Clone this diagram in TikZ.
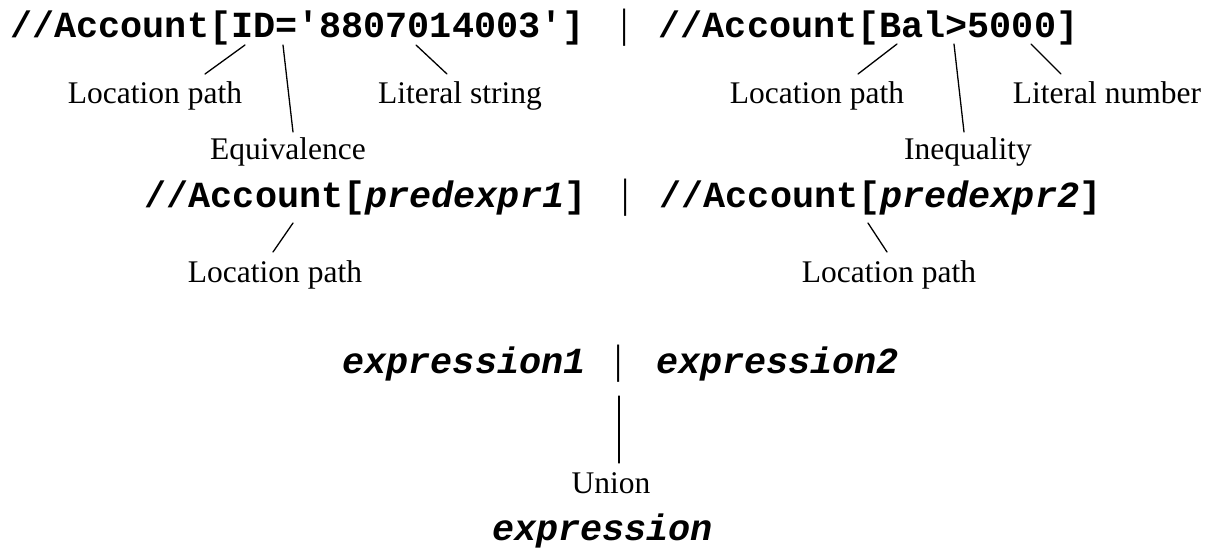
\documentclass[tikz,border=0pt]{standalone}
\usepackage{fontspec}
\setmainfont{Liberation Serif}
\newfontfamily\codefont{Liberation Mono}
\begin{document}
\begin{tikzpicture}[x=1pt,y=-1pt,
  code/.style={inner sep=0pt,anchor=base,font=\codefont\bfseries\fontsize{36.8}{40}\selectfont},
  codeit/.style={code,font=\codefont\bfseries\itshape\fontsize{36.8}{40}\selectfont},
  lbl/.style={inner sep=0pt,anchor=base,font=\fontsize{31.5}{34}\selectfont},
  bar/.style={inner sep=0pt,anchor=base,font=\fontsize{41}{44}\selectfont},
  link/.style={line width=1.3pt,line cap=round}]
\useasboundingbox (0,0) rectangle (1216,547);

% --- first line: the concrete query
\node[code] (q1) at (297.5,37) {//Account[ID='8807014003']};
\node[bar]  (u1) at (625,37) {|};
\node[code] (q2) at (868.5,37) {//Account[Bal>5000]};

\node[lbl] (l1) at (155,103) {Location path};
\node[lbl] (l2) at (460,103) {Literal string};
\node[lbl] (l3) at (817,103) {Location path};
\node[lbl] (l4) at (1107,103) {Literal number};
\node[lbl] (l5) at (288,159) {Equivalence};
\node[lbl] (l6) at (968,159) {Inequality};

\coordinate (c1a) at (245,45);   \coordinate (c1b) at (205,74);
\coordinate (c2a) at (283,45);   \coordinate (c2b) at (293,132);
\coordinate (c3a) at (416,45);   \coordinate (c3b) at (447,74);
\coordinate (c4a) at (897,44);   \coordinate (c4b) at (858,74);
\coordinate (c5a) at (954,44);   \coordinate (c5b) at (964,132);
\coordinate (c6a) at (1031,44);  \coordinate (c6b) at (1061,74);
\draw[link] (c1a) -- (c1b);
\draw[link] (c2a) -- (c2b);
\draw[link] (c3a) -- (c3b);
\draw[link] (c4a) -- (c4b);
\draw[link] (c5a) -- (c5b);
\draw[link] (c6a) -- (c6b);

% --- second line: predicates abstracted
\node[code] (p1) at (365.5,207) {//Account[\textit{predexpr1}]};
\node[bar]  (u2) at (626,207) {|};
\node[code] (p2) at (880.5,207) {//Account[\textit{predexpr2}]};

\node[lbl] (l7) at (275,282) {Location path};
\node[lbl] (l8) at (889,282) {Location path};

\coordinate (d1a) at (293,223);  \coordinate (d1b) at (273,252);
\coordinate (d2a) at (868,223);  \coordinate (d2b) at (887,252);
\draw[link] (d1a) -- (d1b);
\draw[link] (d2a) -- (d2b);

% --- third line: union of two expressions
\node[codeit] (e1) at (464,373) {expression1};
\node[bar]    (u3) at (619,373) {|};
\node[codeit] (e2) at (777.5,373) {expression2};

\node[lbl] (l9) at (611,493) {Union};
\coordinate (ua) at (619,396);  \coordinate (ub) at (619,463);
\draw[link] (ua) -- (ub);

% --- result
\node[codeit] (e) at (602.5,540) {expression};
\end{tikzpicture}
\end{document}
